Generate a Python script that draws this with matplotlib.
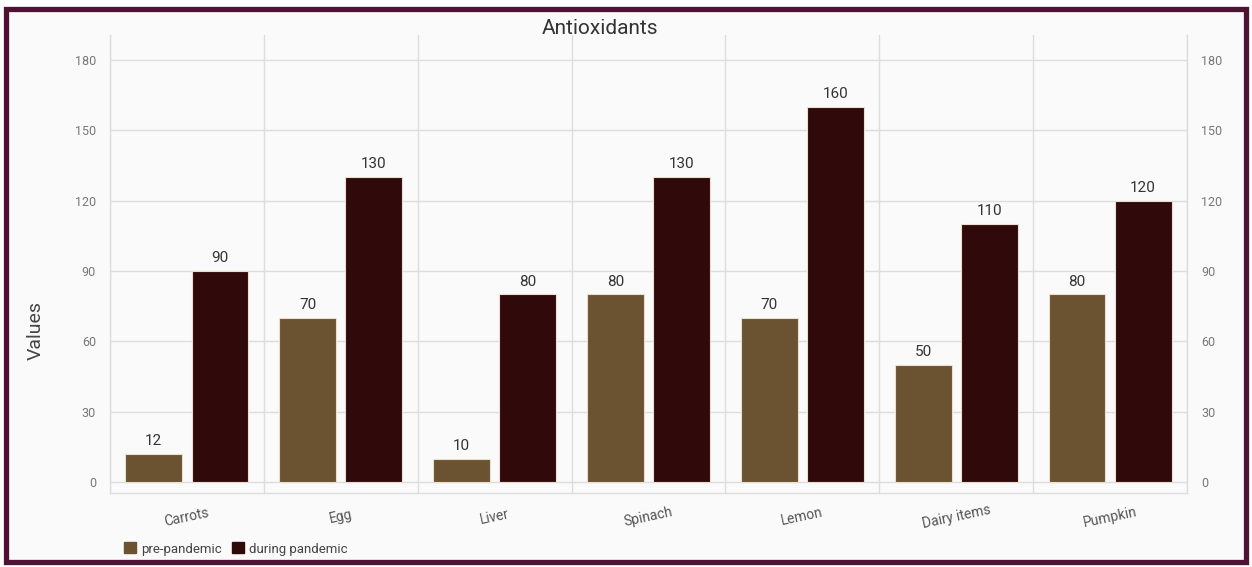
import matplotlib.pyplot as plt
import matplotlib.patches as mpatches
import numpy as np

plt.rcParams["font.family"] = ["Roboto", "DejaVu Sans"]

categories = ["Carrots", "Egg", "Liver", "Spinach", "Lemon", "Dairy items", "Pumpkin"]
pre_pandemic = [12, 70, 10, 80, 70, 50, 80]
during_pandemic = [90, 130, 80, 130, 160, 110, 120]
y_ticks = [0, 30, 60, 90, 120, 150, 180]

PRE_COLOR = "#6b5331"
DURING_COLOR = "#300a0b"
GRID = "#dddddd"
FRAME = "#4e1232"

W, H = 1252, 567
fig = plt.figure(figsize=(W / 100, H / 100), dpi=100)
fig.patch.set_facecolor("white")

# maroon frame around the whole chart, kept behind the axes
fig.patches.append(mpatches.Rectangle((6 / W, 1 - 562 / H), 1240 / W, 553 / H,
                                      transform=fig.transFigure, fill=True,
                                      facecolor="#fafafa", edgecolor=FRAME,
                                      linewidth=3.8, zorder=-10))

ax = fig.add_axes([110 / W, 1 - 493 / H, 1077 / W, 458 / H])
ax.set_facecolor("#fafafa")

x = np.arange(len(categories)) + 0.5
offset = 0.215
width = 0.37

bars1 = ax.bar(x - offset, pre_pandemic, width, color=PRE_COLOR,
               edgecolor="#eadfcf", linewidth=0.8, label="pre-pandemic", zorder=3)
bars2 = ax.bar(x + offset, during_pandemic, width, color=DURING_COLOR,
               edgecolor="#eadfcf", linewidth=0.8, label="during pandemic", zorder=3)

for bars in (bars1, bars2):
    for bar in bars:
        h = bar.get_height()
        ax.text(bar.get_x() + bar.get_width() / 2, h + 2.5, f"{h}",
                ha="center", va="bottom", fontsize=11, color="#333333")

ax.set_xlim(0, len(categories))
ax.set_ylim(-4.7, 190.7)
ax.set_yticks(y_ticks)
ax.set_xticks(np.arange(len(categories) + 1), minor=False)
ax.set_xticklabels([])
ax.tick_params(axis="both", length=0)
ax.tick_params(axis="y", labelsize=9, labelcolor="#777777", pad=10,
               labelright=True, right=False)
ax.grid(True, color=GRID, linewidth=1, zorder=0)
ax.set_axisbelow(True)

for name, sp in ax.spines.items():
    sp.set_color(GRID)
    sp.set_linewidth(1)
ax.spines["top"].set_visible(False)

for xi, name in zip(x, categories):
    ax.text(xi, -15, name, rotation=12, ha="center", va="center",
            fontsize=10, color="#555555", clip_on=False)

fig.text(600 / W, 1 - 28 / H, "Antioxidants", ha="center", va="center",
         fontsize=15, color="#333333")
fig.text(36 / W, 1 - 330 / H, "Values", rotation=90, ha="center", va="center",
         fontsize=14, color="#444444")

handles = [mpatches.Patch(color=PRE_COLOR, label="pre-pandemic"),
           mpatches.Patch(color=DURING_COLOR, label="during pandemic")]
fig.legend(handles=handles, loc="center left", bbox_to_anchor=(112 / W, 1 - 549 / H),
           ncol=2, frameon=False, fontsize=9.5, handlelength=0.9, handleheight=0.9,
           handletextpad=0.4, columnspacing=0.8, labelcolor="#444444")

plt.savefig("out.png", dpi=100, facecolor=fig.get_facecolor())
